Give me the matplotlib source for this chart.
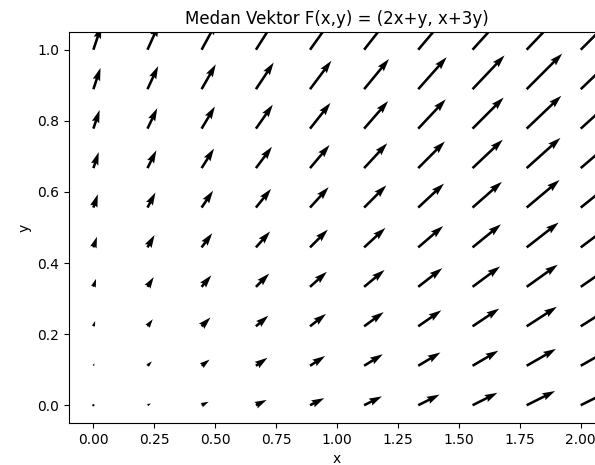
import numpy as np
import matplotlib.pyplot as plt

# Titik-titik grid (10 x 10)
x_vals = [0.0, 0.222, 0.444, 0.667, 0.889, 1.111, 1.333, 1.556, 1.778, 2.0]
y_vals = [0.0, 0.111, 0.222, 0.333, 0.444, 0.556, 0.667, 0.778, 0.889, 1.0]

X, Y = np.meshgrid(x_vals, y_vals)

# Komponen medan vektor F(x,y) = (2x+y, x+3y)
U = 2 * X + Y
V = X + 3 * Y

fig = plt.figure(figsize=(5.95, 4.65), dpi=100)
ax = fig.add_axes([0.116, 0.0903, 0.901, 0.841])

ax.quiver(X, Y, U, V, scale=67, width=0.0048)

ax.set_xlim(-0.1, 2.1)
ax.set_ylim(-0.05, 1.05)
ax.set_xticks([0.0, 0.25, 0.5, 0.75, 1.0, 1.25, 1.5, 1.75, 2.0])
ax.set_yticks([0.0, 0.2, 0.4, 0.6, 0.8, 1.0])
ax.set_xlabel('x')
ax.set_ylabel('y')
ax.set_title('Medan Vektor F(x,y) = (2x+y, x+3y)')

fig.savefig('out.png', dpi=100)
